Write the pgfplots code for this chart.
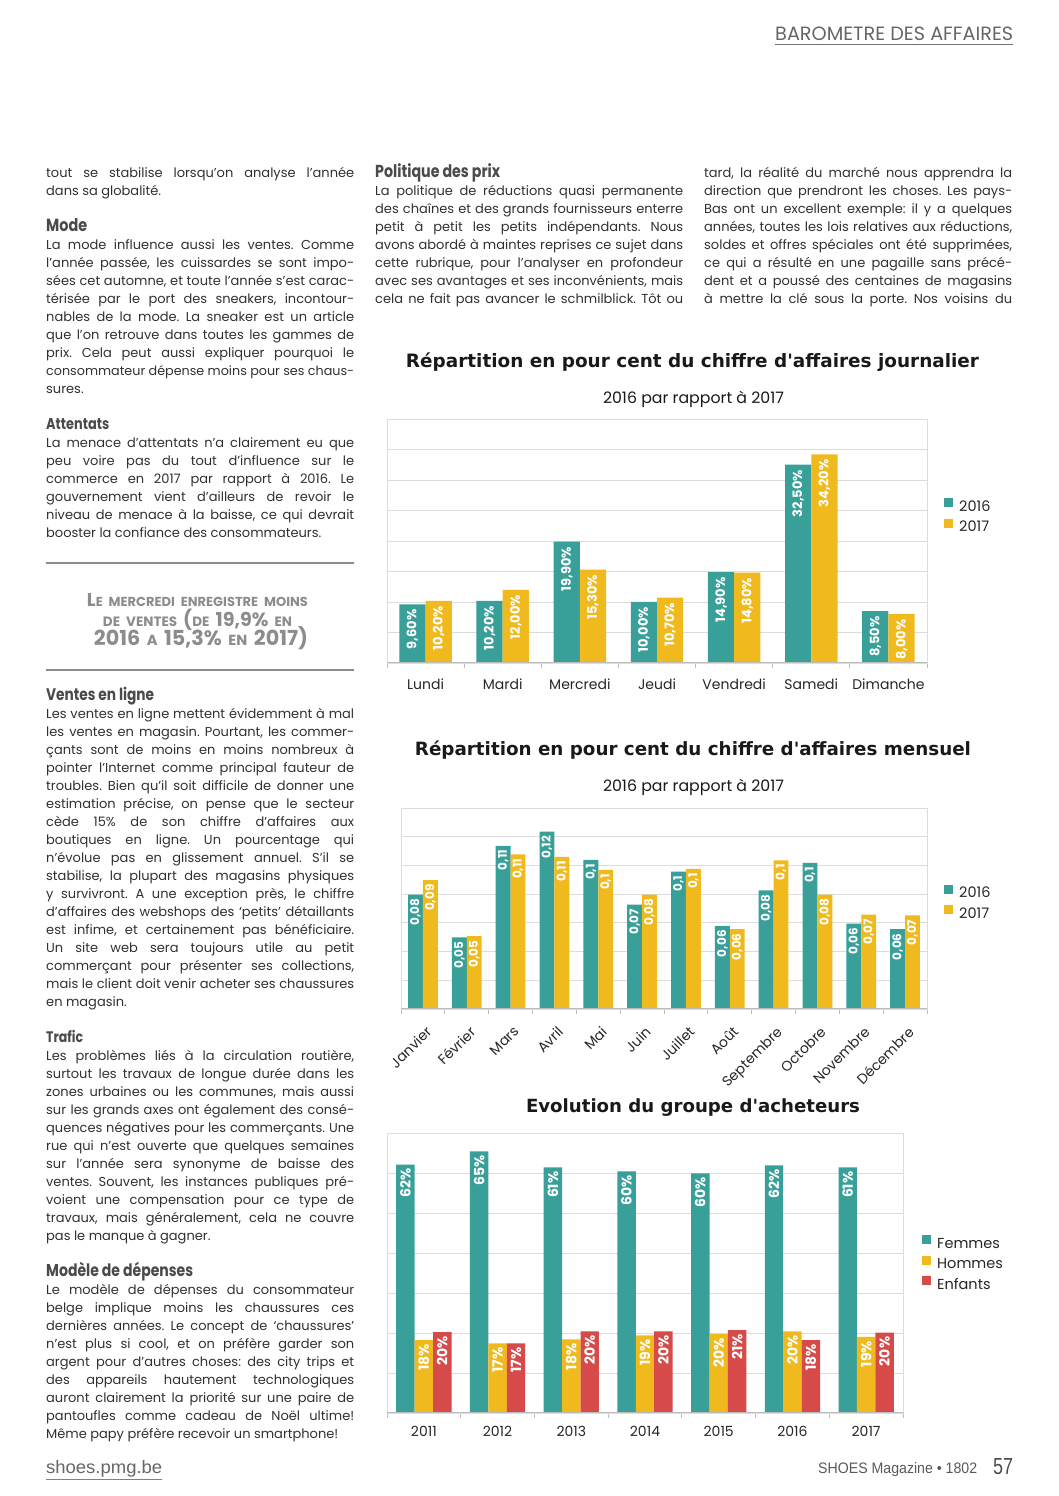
\documentclass[border=0pt]{standalone}
\usepackage{pgfplots}
\pgfplotsset{compat=1.18}
\usepackage{graphicx}
\usepackage{fontspec}
\setmainfont{Poppins}
\newfontfamily\headfont{Poppins}[FakeStretch=0.82]
\newfontfamily\titlefont{DejaVu Sans}
\newfontfamily\arialfont{Liberation Sans}

\definecolor{cteal}{HTML}{389F99}
\definecolor{cgold}{HTML}{F0BA1E}
\definecolor{cred}{HTML}{D64A4A}
\definecolor{bodytxt}{HTML}{303030}
\definecolor{headtxt}{HTML}{4A4A4A}
\definecolor{quotegray}{HTML}{8C8C8C}
\definecolor{gridgray}{HTML}{DCDCDC}
\definecolor{axisgray}{HTML}{BDBDBD}

% text helpers
\newlength\colw \setlength\colw{308pt}
\newlength\tmpw
\newcommand\J[1]{\settowidth\tmpw{#1}\ifdim\tmpw>\colw\resizebox{\colw}{!}{#1}\else\makebox[\colw][s]{#1}\fi}
\newcommand\Hd[2]{{\color{headtxt}\resizebox{#1pt}{!}{\headfont\bfseries\fontsize{15}{18}\selectfont #2}}}
\newcommand\bodyfont{\fontsize{13}{18}\selectfont}
\newcommand\textblock[3]{%
  \foreach \lin [count=\i from 0] in {#3} {
    \node[anchor=base west, inner sep=0pt, text=bodytxt, font=\bodyfont] at (#1, #2+18*\i+4) {\lin};
  }}
\newcommand\bigq[1]{{\fontsize{17}{17}\selectfont #1}}
\newcommand\smq[1]{{\fontsize{12}{12}\selectfont #1}}
\newcommand\qs{\hspace{0.45em}}

\pgfplotsset{
  barchart/.style={
    scale only axis,
    ybar,
    ymin=0,
    axis line style={draw=gridgray, line width=0.8pt},
    ymajorgrids, grid style={draw=gridgray, line width=0.8pt},
    yticklabels={},
    major tick length=0pt,
    minor tick length=5pt,
    tick align=outside,
    xtick pos=left,
    tick style={draw=axisgray, line width=0.8pt},
    ticklabel style={font=\fontsize{14}{16}\selectfont, text=black!85},
    /pgf/number format/assume math mode=true,
    nodes near coords style={rotate=90, anchor=east, inner ysep=0pt, inner xsep=5pt,
      text=white, font=\bfseries\fontsize{13}{13}\selectfont},
    legend style={draw=none, fill=none, inner sep=0pt, anchor=west,
      font=\fontsize{14.5}{16}\selectfont, text=black!85, row sep=4pt,
      cells={anchor=west}},
    legend image code/.code={\fill[##1] (0pt,-0.5pt) rectangle (9pt,8.5pt); \path (13pt,0pt);},
  }
}

\begin{document}
\frenchspacing
\begin{tikzpicture}
\useasboundingbox (0,0) rectangle (1058pt,1496pt);

\begin{scope}[shift={(0pt,1496pt)}, x=1pt, y=-1pt]
% header
\node[anchor=base west, inner sep=0pt, text=black!60] at (775,41)
  {\resizebox{238pt}{!}{\fontsize{20}{20}\selectfont BAROMETRE DES AFFAIRES}};
\draw[black!55, line width=1pt] (775,45) -- (1013,45);

% left column
\textblock{46}{174}{
 {\J{tout se stabilise lorsqu’on analyse l’année}},
 {dans sa globalité.},
 {},
 {\Hd{41}{Mode}},
 {\J{La mode influence aussi les ventes. Comme}},
 {\J{l’année passée, les cuissardes se sont impo-}},
 {\J{sées cet automne, et toute l’année s’est carac-}},
 {\J{térisée par le port des sneakers, incontour-}},
 {\J{nables de la mode. La sneaker est un article}},
 {\J{que l’on retrouve dans toutes les gammes de}},
 {\J{prix. Cela peut aussi expliquer pourquoi le}},
 {\J{consommateur dépense moins pour ses chaus-}},
 {sures.},
 {},
 {\Hd{63}{Attentats}},
 {\J{La menace d’attentats n’a clairement eu que}},
 {\J{peu voire pas du tout d’influence sur le}},
 {\J{commerce en 2017 par rapport à 2016. Le}},
 {\J{gouvernement vient d’ailleurs de revoir le}},
 {\J{niveau de menace à la baisse, ce qui devrait}},
 {booster la confiance des consommateurs.}
}

% pull quote
\draw[quotegray, line width=1.6pt] (46,563) -- (354,563);
\draw[quotegray, line width=1.6pt] (46,670) -- (354,670);
\begin{scope}[every node/.style={anchor=base, inner sep=0pt, text=quotegray, font=\bfseries}]
\node at (197.5,607) {\resizebox{221pt}{!}{\bigq{L}\smq{E\qs MERCREDI\qs ENREGISTRE\qs MOINS}}};
\node at (197.5,627) {\resizebox{189pt}{!}{\smq{DE\qs VENTES\qs}\bigq{(}\smq{DE\qs}\bigq{19,9\%}\smq{\qs EN}}};
\node at (201,646) {\resizebox{214pt}{!}{\bigq{2016}\smq{\qs A\qs}\bigq{15,3\%}\smq{\qs EN\qs}\bigq{2017)}}};
\end{scope}

\textblock{46}{697}{
 {\Hd{108}{Ventes en ligne}},
 {\J{Les ventes en ligne mettent évidemment à mal}},
 {\J{les ventes en magasin. Pourtant, les commer-}},
 {\J{çants sont de moins en moins nombreux à}},
 {\J{pointer l’Internet comme principal fauteur de}},
 {\J{troubles. Bien qu’il soit difficile de donner une}},
 {\J{estimation précise, on pense que le secteur}},
 {\J{cède 15\% de son chiffre d’affaires aux}},
 {\J{boutiques en ligne. Un pourcentage qui}},
 {\J{n’évolue pas en glissement annuel. S’il se}},
 {\J{stabilise, la plupart des magasins physiques}},
 {\J{y survivront. A une exception près, le chiffre}},
 {\J{d’affaires des webshops des ‘petits’ détaillants}},
 {\J{est infime, et certainement pas bénéficiaire.}},
 {\J{Un site web sera toujours utile au petit}},
 {\J{commerçant pour présenter ses collections,}},
 {\J{mais le client doit venir acheter ses chaussures}},
 {en magasin.},
 {},
 {\Hd{37}{Trafic}},
 {\J{Les problèmes liés à la circulation routière,}},
 {\J{surtout les travaux de longue durée dans les}},
 {\J{zones urbaines ou les communes, mais aussi}},
 {\J{sur les grands axes ont également des consé-}},
 {\J{quences négatives pour les commerçants. Une}},
 {\J{rue qui n’est ouverte que quelques semaines}},
 {\J{sur l’année sera synonyme de baisse des}},
 {\J{ventes. Souvent, les instances publiques pré-}},
 {\J{voient une compensation pour ce type de}},
 {\J{travaux, mais généralement, cela ne couvre}},
 {pas le manque à gagner.},
 {},
 {\Hd{147}{Modèle de dépenses}},
 {\J{Le modèle de dépenses du consommateur}},
 {\J{belge implique moins les chaussures ces}},
 {\J{dernières années. Le concept de ‘chaussures’}},
 {\J{n’est plus si cool, et on préfère garder son}},
 {\J{argent pour d’autres choses: des city trips et}},
 {\J{des appareils hautement technologiques}},
 {\J{auront clairement la priorité sur une paire de}},
 {\J{pantoufles comme cadeau de Noël ultime!}},
 {Même papy préfère recevoir un smartphone!}
}

% middle and right columns
\textblock{375}{174}{
 {\Hd{125}{Politique des prix}},
 {\J{La politique de réductions quasi permanente}},
 {\J{des chaînes et des grands fournisseurs enterre}},
 {\J{petit à petit les petits indépendants. Nous}},
 {\J{avons abordé à maintes reprises ce sujet dans}},
 {\J{cette rubrique, pour l’analyser en profondeur}},
 {\J{avec ses avantages et ses inconvénients, mais}},
 {\J{cela ne fait pas avancer le schmilblick. Tôt ou}}
}
\textblock{704}{174}{
 {\J{tard, la réalité du marché nous apprendra la}},
 {\J{direction que prendront les choses. Les pays-}},
 {\J{Bas ont un excellent exemple: il y a quelques}},
 {\J{années, toutes les lois relatives aux réductions,}},
 {\J{soldes et offres spéciales ont été supprimées,}},
 {\J{ce qui a résulté en une pagaille sans précé-}},
 {\J{dent et a poussé des centaines de magasins}},
 {\J{à mettre la clé sous la porte. Nos voisins du}}
}

% chart titles
\begin{scope}[every node/.style={inner sep=0pt, text=black!90}]
\node at (692.5,362) {\resizebox{573pt}{!}{\titlefont\bfseries Répartition en pour cent du chiffre d'affaires journalier}};
\node at (693.5,399) {\resizebox{181pt}{!}{\fontsize{15}{18}\selectfont 2016 par rapport à 2017}};
\node at (693,750) {\resizebox{556pt}{!}{\titlefont\bfseries Répartition en pour cent du chiffre d'affaires mensuel}};
\node at (693.5,787) {\resizebox{181pt}{!}{\fontsize{15}{18}\selectfont 2016 par rapport à 2017}};
\node at (693,1108) {\resizebox{334pt}{!}{\titlefont\bfseries Evolution du groupe d'acheteurs}};
\end{scope}

% footer
\node[anchor=base west, inner sep=0pt, text=black!60] at (46,1474) {\resizebox{116pt}{13pt}{\arialfont shoes.pmg.be}};
\draw[black!50, line width=0.8pt] (46,1479) -- (162,1479);
\node[anchor=base west, inner sep=0pt, text=black!65] at (818,1474) {\resizebox{159pt}{11pt}{\arialfont SHOES Magazine • 1802}};
\node[anchor=base west, inner sep=0pt, text=black!70] at (993,1475) {\resizebox{20pt}{16pt}{\arialfont 57}};
\end{scope}

% chart 1: daily turnover
\begin{axis}[barchart, at={(387pt,833pt)}, anchor=south west,
    width=540pt, height=244pt,
    xmin=-0.5, xmax=6.5, ymax=40, ytick={0,5,...,40},
    xtick={0,...,6},
    xticklabels={Lundi,Mardi,Mercredi,Jeudi,Vendredi,Samedi,Dimanche},
    xticklabel style={yshift=-12pt},
    minor xtick={-0.5,0.5,...,6.5},
    nodes near coords={\pgfmathprintnumber[fixed,fixed zerofill,precision=2,use comma]{\pgfplotspointmeta}\%},
    legend style={at={(1,0.60)}, xshift=17pt},
  ]
  \addplot[fill=cteal, draw=none, bar width=0.34, bar shift=-0.17]
    coordinates {(0,9.6) (1,10.2) (2,19.9) (3,10.0) (4,14.9) (5,32.5) (6,8.5)};
  \addplot[fill=cgold, draw=none, bar width=0.34, bar shift=0.17]
    coordinates {(0,10.2) (1,12.0) (2,15.3) (3,10.7) (4,14.8) (5,34.2) (6,8.0)};
  \legend{2016,2017}
  \draw[axisgray, line width=1pt] (rel axis cs:0,0) -- (rel axis cs:1,0);
\end{axis}

% chart 2: monthly turnover
\begin{axis}[barchart, at={(401pt,487pt)}, anchor=south west,
    width=526pt, height=201pt,
    xmin=-0.5, xmax=11.5, ymax=0.14, ytick={0,0.02,...,0.14},
    xtick={0,...,11},
    xticklabels={Janvier,Février,Mars,Avril,Mai,Juin,Juillet,Août,Septembre,Octobre,Novembre,Décembre},
    xticklabel style={rotate=45, anchor=north east, inner sep=1pt, yshift=-12pt, xshift=-9pt},
    minor xtick={-0.5,0.5,...,11.5},
    nodes near coords={\pgfmathprintnumber[fixed,precision=2,use comma]{\pgfplotspointmeta}},
    nodes near coords style={inner xsep=4pt, font=\bfseries\fontsize{12}{12}\selectfont},
    legend style={at={(1,0.525)}, xshift=17pt},
  ]
  \addplot[fill=cteal, draw=none, bar width=0.34, bar shift=-0.17]
    coordinates {(0,0.0796) (1,0.0498) (2,0.1137) (3,0.1236) (4,0.1038) (5,0.0727)
                 (6,0.0957) (7,0.0577) (8,0.0826) (9,0.1017) (10,0.0595) (11,0.0556)};
  \addplot[fill=cgold, draw=none, bar width=0.34, bar shift=0.17]
    coordinates {(0,0.0897) (1,0.0507) (2,0.1077) (3,0.1060) (4,0.0969) (5,0.0796)
                 (6,0.0976) (7,0.0556) (8,0.1036) (9,0.0796) (10,0.0657) (11,0.0652)};
  \legend{2016,2017}
  \draw[axisgray, line width=1pt] (rel axis cs:0,0) -- (rel axis cs:1,0);
\end{axis}

% chart 3: buyer groups
\begin{axis}[barchart, at={(387pt,83pt)}, anchor=south west,
    width=516pt, height=280pt,
    xmin=-0.5, xmax=6.5, ymax=70, ytick={0,10,...,70},
    xtick={0,...,6},
    xticklabels={2011,2012,2013,2014,2015,2016,2017},
    xticklabel style={yshift=-10pt},
    minor xtick={-0.5,0.5,...,6.5},
    nodes near coords={\pgfmathprintnumber[fixed,precision=0]{\pgfplotspointmeta}\%},
    nodes near coords style={inner xsep=4pt, font=\bfseries\fontsize{14}{14}\selectfont},
    legend style={at={(1,0.532)}, xshift=19pt},
  ]
  \addplot[fill=cteal, draw=none, bar width=0.25, bar shift=-0.25]
    coordinates {(0,62.1) (1,65.4) (2,61.4) (3,60.4) (4,59.9) (5,61.9) (6,61.4)};
  \addplot[fill=cgold, draw=none, bar width=0.25, bar shift=0]
    coordinates {(0,18.2) (1,17.4) (2,18.4) (3,19.4) (4,19.7) (5,20.4) (6,19.0)};
  \addplot[fill=cred, draw=none, bar width=0.25, bar shift=0.25]
    coordinates {(0,20.2) (1,17.4) (2,20.4) (3,20.4) (4,20.7) (5,18.2) (6,20.1)};
  \legend{Femmes,Hommes,Enfants}
  \draw[axisgray, line width=1pt] (rel axis cs:0,0) -- (rel axis cs:1,0);
\end{axis}
\end{tikzpicture}
\end{document}
